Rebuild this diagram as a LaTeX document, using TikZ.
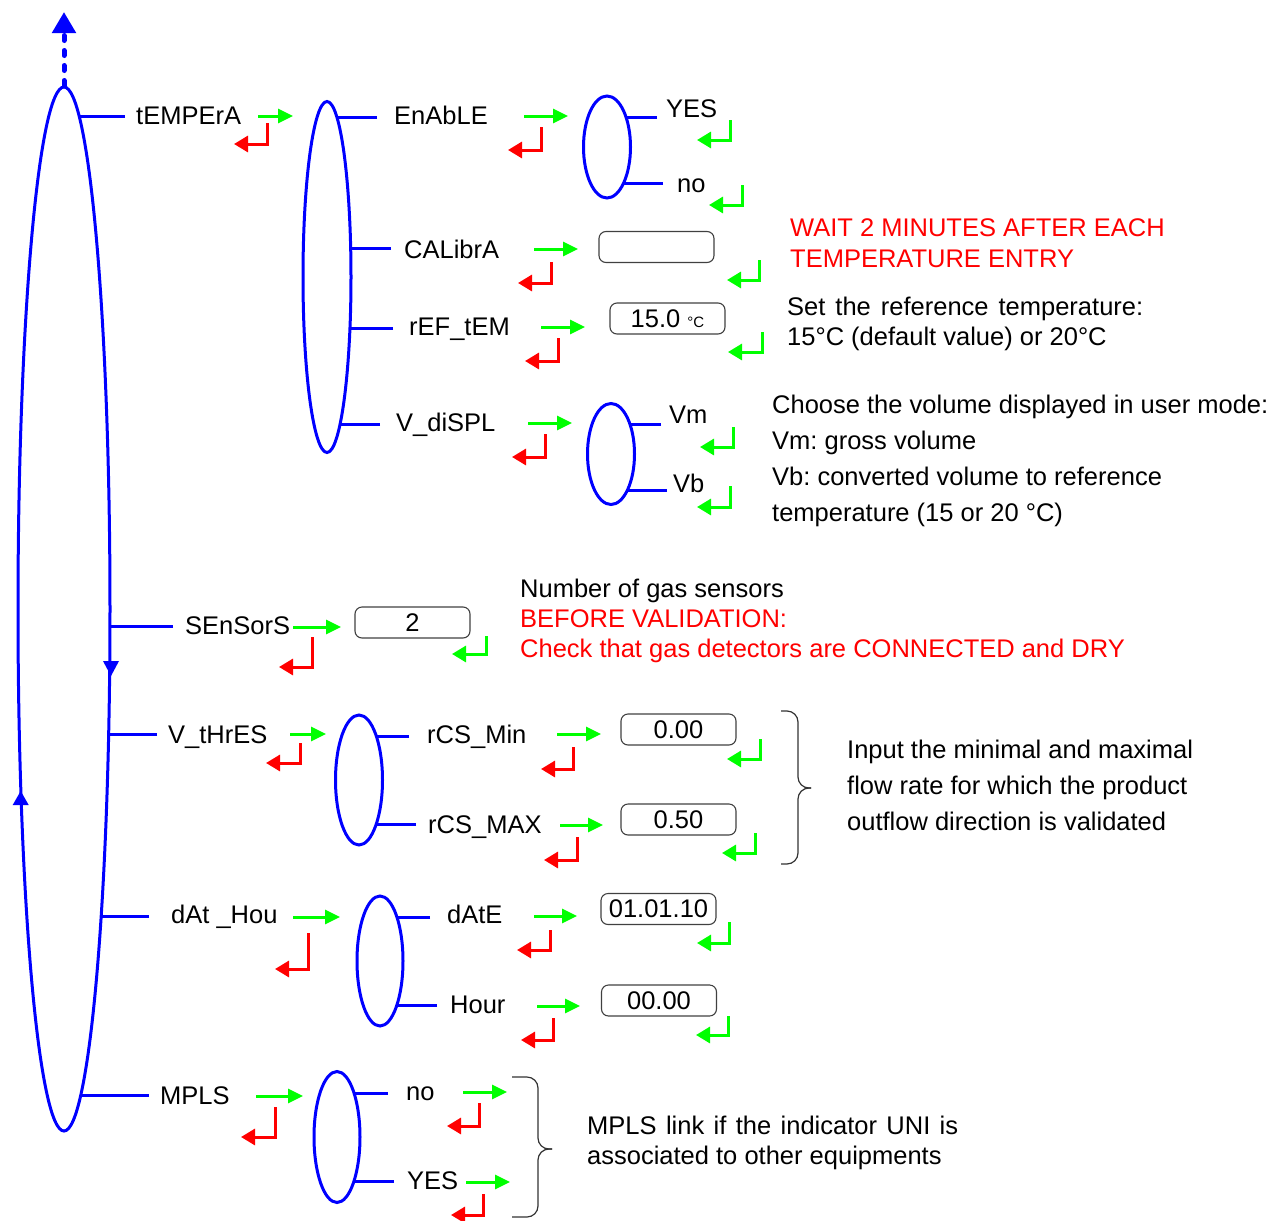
\documentclass[tikz,border=0pt]{standalone}
\usepackage{fontspec}
\setmainfont{Liberation Sans}
\usetikzlibrary{shapes.geometric,arrows.meta,backgrounds}

\tikzset{
  menuring/.style={ellipse, draw=blue, line width=3pt, fill=white, inner sep=0pt},
  branch/.style={blue, line width=3pt},
  item/.style={anchor=base west, inner sep=0pt},
  valbox/.style={draw=black!75, line width=1.1pt, rounded corners=7pt,
    minimum width=115pt, minimum height=31pt, inner sep=0pt},
  nextkey/.style={green, line width=3pt, -{Triangle[length=15pt,width=14pt]}},
  backkey/.style={red, line width=3pt, -{Triangle[length=14pt,width=16pt]}},
  okkey/.style={green, line width=3pt, -{Triangle[length=14pt,width=16pt]}},
  note/.style={anchor=north west, inner sep=0pt, align=left},
  bracket/.style={draw=black!80, line width=1.2pt, rounded corners=11pt},
}

\begin{document}
\frenchspacing
\begin{tikzpicture}[x=1pt, y=-1pt, font=\fontsize{25.5}{31}\selectfont]
  \useasboundingbox (0,0) rectangle (1275,1221);

  % menu loops
  \node[menuring, minimum width=92pt, minimum height=1044pt] (menu) at (64,609) {};
  \node[menuring, minimum width=48pt, minimum height=351pt] (tempsub) at (327,277) {};
  \node[menuring, minimum width=47pt, minimum height=102pt] (enasub) at (607,147) {};
  \node[menuring, minimum width=47pt, minimum height=101pt] (dispsub) at (611,454) {};
  \node[menuring, minimum width=47pt, minimum height=130pt] (thressub) at (359,780) {};
  \node[menuring, minimum width=46pt, minimum height=130pt] (datesub) at (380,961) {};
  \node[menuring, minimum width=46pt, minimum height=131pt] (mplssub) at (337,1137) {};

  % way out of the menu, and the turning sense
  \coordinate (upend) at (64,12);
  \draw[blue, line width=5pt, line cap=round, dash pattern=on 5pt off 10pt,
    -{Triangle[length=21pt,width=23pt]}] (menu.north) -- (upend);
  \fill[blue] (20.7,791) -- (12.7,805) -- (28.7,805) -- cycle;
  \fill[blue] (111,676) -- (103,661) -- (119,661) -- cycle;

  % menu entries
  \node[item] (tempera) at (136,124) {tEMPErA};
  \node[item] (sensors) at (185,634) {SEnSorS};
  \node[item] (vthres) at (168,743) {V\_tHrES};
  \node[item] (dathou) at (171,923) {dAt \_Hou};
  \node[item] (mpls) at (160,1104) {MPLS};
  \node[item] (enable) at (394,124) {EnAbLE};
  \node[item] (calibra) at (404,258) {CALibrA};
  \node[item] (reftem) at (409,335) {rEF\_tEM};
  \node[item] (vdispl) at (396,431) {V\_diSPL};
  \node[item] (enayes) at (666,117) {YES};
  \node[item] (enano) at (677,192) {no};
  \node[item] (vm) at (669,423) {Vm};
  \node[item] (vb) at (673,492) {Vb};
  \node[item] (rcsmin) at (427,743) {rCS\_Min};
  \node[item] (rcsmax) at (428,833) {rCS\_MAX};
  \node[item] (date) at (447,923) {dAtE};
  \node[item] (hour) at (450,1013) {Hour};
  \node[item] (mplsno) at (406,1100) {no};
  \node[item] (mplsyes) at (407,1189) {YES};

  % branch ends
  \coordinate (bTemp) at (125,116);
  \coordinate (bSens) at (173,626);
  \coordinate (bThres) at (157,734);
  \coordinate (bDate) at (149,916);
  \coordinate (bMpls) at (149,1095);
  \coordinate (bEna) at (377,117);
  \coordinate (bCal) at (391,248);
  \coordinate (bRef) at (393,328);
  \coordinate (bDisp) at (380,424);
  \coordinate (bYes) at (657,117);
  \coordinate (bNo) at (663,183);
  \coordinate (bVm) at (661,424);
  \coordinate (bVb) at (667,490);
  \coordinate (bMin) at (409,736);
  \coordinate (bMax) at (416,824);
  \coordinate (bDay) at (430,917);
  \coordinate (bHour) at (437,1005);
  \coordinate (bMno) at (388,1093);
  \coordinate (bMyes) at (394,1181);

  \begin{pgfonlayer}{background}
    \foreach \b in {bTemp,bSens,bThres,bDate,bMpls}
      \draw[branch] (\b) -- (\b -| menu.center);
    \foreach \b in {bEna,bCal,bRef,bDisp}
      \draw[branch] (\b) -- (\b -| tempsub.center);
    \foreach \b in {bYes,bNo}
      \draw[branch] (\b) -- (\b -| enasub.center);
    \foreach \b in {bVm,bVb}
      \draw[branch] (\b) -- (\b -| dispsub.center);
    \foreach \b in {bMin,bMax}
      \draw[branch] (\b) -- (\b -| thressub.center);
    \foreach \b in {bDay,bHour}
      \draw[branch] (\b) -- (\b -| datesub.center);
    \foreach \b in {bMno,bMyes}
      \draw[branch] (\b) -- (\b -| mplssub.center);
  \end{pgfonlayer}

  % value fields
  \node[valbox] (calval) at (656.5,247) {};
  \node[valbox] (refval) at (667.5,318.5) {15.0 {\fontsize{15}{18}\selectfont °C}};
  \node[valbox] (sensval) at (412.5,622.5) {2};
  \node[valbox] (minval) at (678.5,729.5) {0.00};
  \node[valbox] (maxval) at (678.5,819.5) {0.50};
  \node[valbox] (dateval) at (658.5,909) {01.01.10};
  \node[valbox] (hourval) at (659,1000.5) {00.00};

  % keys
  \draw[nextkey] (258,116) -- (293,116);
  \draw[backkey] (267,123) |- (234,144);
  \draw[nextkey] (524,116) -- (568,116);
  \draw[backkey] (541,127) |- (508,150);
  \draw[okkey] (730,120) |- (697,140);
  \draw[okkey] (742,185) |- (709,205);
  \draw[nextkey] (534,249) -- (578,249);
  \draw[backkey] (551,262) |- (518,283);
  \draw[okkey] (759,260) |- (727,280);
  \draw[nextkey] (541,327) -- (585,327);
  \draw[backkey] (558,338) |- (525,361);
  \draw[okkey] (762,332) |- (728,352);
  \draw[nextkey] (528,423) -- (572,423);
  \draw[backkey] (545,434) |- (512,457);
  \draw[okkey] (733,427) |- (700,447);
  \draw[okkey] (730,486) |- (697,507);
  \draw[nextkey] (293,627) -- (341,627);
  \draw[backkey] (312,637) |- (279,667);
  \draw[okkey] (486,636) |- (452,654);
  \draw[nextkey] (290,734) -- (326,734);
  \draw[backkey] (300,743) |- (266,763);
  \draw[nextkey] (557,734) -- (601,734);
  \draw[backkey] (573,747) |- (541,769);
  \draw[okkey] (760,739) |- (727,759);
  \draw[nextkey] (560,825) -- (603,825);
  \draw[backkey] (577,837) |- (544,860);
  \draw[okkey] (755,833) |- (722,853);
  \draw[nextkey] (293,917) -- (340,917);
  \draw[backkey] (308,933) |- (275,969);
  \draw[nextkey] (534,916) -- (577,916);
  \draw[backkey] (550,930) |- (517,950);
  \draw[okkey] (729,922) |- (697,943);
  \draw[nextkey] (537,1006) -- (580,1006);
  \draw[backkey] (553,1018) |- (521,1040);
  \draw[okkey] (728,1016) |- (696,1035);
  \draw[nextkey] (256,1096) -- (303,1096);
  \draw[backkey] (275,1107) |- (241,1137);
  \draw[nextkey] (463,1092) -- (507,1092);
  \draw[backkey] (479,1103) |- (447,1126);
  \draw[nextkey] (466,1182) -- (510,1182);
  \draw[backkey] (483,1194) |- (451,1215);

  % braces
  \draw[bracket] (781,711) -- (798,711) -- (798,788) -- (811,788);
  \draw[bracket] (781,864) -- (798,864) -- (798,788) -- (811,788);
  \draw[bracket] (512,1077) -- (538,1077) -- (538,1149) -- (552,1149);
  \draw[bracket] (512,1217) -- (538,1217) -- (538,1149) -- (552,1149);

  % notes
  \node[note, red] (waitnote) at (790,218.5)
    {WAIT 2 MINUTES AFTER EACH\\TEMPERATURE ENTRY};
  \node[note, font=\fontsize{25.5}{30}\selectfont] (refnote) at (787,296.5)
    {{\spaceskip=10pt Set the reference temperature:}\\15°C (default value) or 20°C};
  \node[note, font=\fontsize{25.5}{36.2}\selectfont] (dispnote) at (772,394.5)
    {Choose the volume displayed in user mode:\\Vm: gross volume\\
     Vb: converted volume to reference\\temperature (15 or 20 °C)};
  \node[note, font=\fontsize{25.5}{30}\selectfont] (sensnote) at (520,578.5)
    {Number of gas sensors\\\textcolor{red}{BEFORE VALIDATION:}\\
     \textcolor{red}{Check that gas detectors are CONNECTED and DRY}};
  \node[note, font=\fontsize{25.5}{36}\selectfont] (thresnote) at (847,739.5)
    {Input the minimal and maximal\\flow rate for which the product\\
     outflow direction is validated};
  \node[note, font=\fontsize{25.5}{30}\selectfont] (mplsnote) at (587,1115.5)
    {{\spaceskip=9.4pt MPLS link if the indicator UNI is}\\associated to other equipments};
\end{tikzpicture}
\end{document}
